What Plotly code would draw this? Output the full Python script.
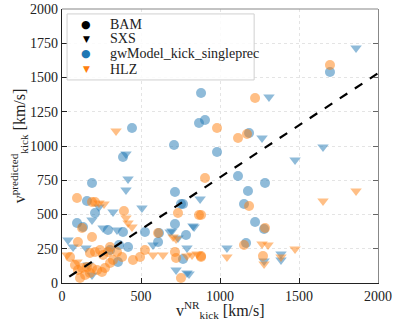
import plotly.graph_objects as go

# gwModel_kick_singleprec predictions vs NR kicks (km/s)
gw_bam_x = [880, 867, 905, 443, 1696, 709, 981, 386, 1184, 190, 158, 209, 715, 753, 766,
            1114, 1285, 1177, 1152, 1222, 1279, 1165, 715, 785, 608, 525, 766, 95, 133,
            291, 386, 304, 361, 418, 354, 614]
gw_bam_y = [1387, 1168, 1190, 1132, 1540, 1007, 956, 920, 1095, 730, 599, 511, 664, 577, 577,
            781, 730, 672, 577, 445, 394, 292, 431, 350, 299, 372, 175, 438, 409,
            387, 372, 241, 277, 263, 153, 365]

gw_sxs_x = [1861, 1310, 1266, 1652, 1475, 405, 418, 405, 234, 323, 506, 874, 829, 696,
            791, 722, 791, 804, 1044, 1279, 1386, 1386, 684, 836, 734, 576, 190, 260,
            348, 38, 70, 152, 165, 190]
gw_sxs_y = [1715, 1358, 1059, 993, 898, 942, 759, 679, 555, 518, 548, 613, 416, 380,
            256, 95, 73, 66, 256, 161, 212, 168, 372, 409, 328, 277, 460, 401,
            387, 314, 263, 255, 131, 58]

# HLZ predictions
hlz_bam_x = [1696, 1222, 981, 1114, 1171, 905, 1184, 1285, 1152, 1272, 880, 880, 95, 190,
             209, 392, 734, 867, 608, 525, 494, 715, 722, 880, 753, 127, 190, 101, 51,
             177, 209, 241, 260, 291, 304, 348, 380, 323, 82, 101, 127, 158, 190, 222,
             177, 146, 114, 253, 272, 304, 449]
hlz_bam_y = [1591, 1350, 1132, 1059, 1088, 767, 562, 402, 277, 197, 496, 197, 621, 591,
             591, 526, 511, 496, 365, 241, 190, 226, 183, 190, 37, 402, 336, 299, 190,
             219, 226, 241, 204, 226, 263, 226, 190, 168, 131, 95, 110, 117, 110, 95,
             73, 58, 37, 80, 110, 146, 168]

hlz_sxs_x = [342, 234, 266, 1861, 1652, 1266, 1304, 1475, 1044, 1279, 1386, 703, 722, 791,
             823, 855, 576, 639, 418, 443, 405, 32, 95]
hlz_sxs_y = [1110, 584, 577, 672, 599, 285, 277, 248, 190, 139, 190, 336, 321, 197,
             204, 212, 204, 204, 438, 409, 474, 204, 153]

fit_slope = 0.76
fit_intercept = 11
fit_x = [46, 2000]

legend_names = ["BAM", "SXS", "gwModel_kick_singleprec", "HLZ"]

BLUE = "#1f77b4"
ORANGE = "#ff7f0e"
FONT = "Liberation Serif"
TXT = "#222"

fig = go.Figure()

series = [
    (gw_bam_x, gw_bam_y, BLUE, "circle"),
    (gw_sxs_x, gw_sxs_y, BLUE, "triangle-down"),
    (hlz_bam_x, hlz_bam_y, ORANGE, "circle"),
    (hlz_sxs_x, hlz_sxs_y, ORANGE, "triangle-down"),
]
for xs, ys, col, sym in series:
    fig.add_trace(go.Scatter(
        x=xs, y=ys, mode="markers", showlegend=False, hoverinfo="skip",
        marker=dict(color=col, symbol=sym, size=10, opacity=0.5, line_width=0),
    ))

fig.add_trace(go.Scatter(
    x=fit_x, y=[fit_slope * v + fit_intercept for v in fit_x], mode="lines",
    showlegend=False, line=dict(color="black", width=2.2, dash="dash"),
))

# right spine (grey) as an overlaid axis
fig.add_trace(go.Scatter(x=[None], y=[None], yaxis="y2", showlegend=False))

yticks = [0, 250, 500, 750, 1000, 1250, 1500, 1750, 2000]

# hand-built legend (matplotlib-like compact rows)
legend_syms = [("●", "black", 11), ("▼", "black", 9), ("●", BLUE, 11), ("▼", ORANGE, 9)]
row_y = [0.945, 0.891, 0.836, 0.781]
annotations = []
for name, (sym, col, sz), ry in zip(legend_names, legend_syms, row_y):
    annotations.append(dict(text=sym, xref="paper", yref="paper", x=0.076, y=ry,
                            xanchor="center", yanchor="middle", showarrow=False,
                            font=dict(family="DejaVu Sans", size=sz, color=col)))
    annotations.append(dict(text=name, xref="paper", yref="paper", x=0.146, y=ry,
                            xanchor="left", yanchor="middle", showarrow=False,
                            font=dict(family=FONT, size=14, color=TXT)))

annotations += [
    dict(text="v<sup>NR</sup><sub>kick</sub> [km/s]", xref="paper", yref="paper",
         x=0.5, y=-0.1, xanchor="center", yanchor="middle", showarrow=False,
         font=dict(family=FONT, size=16, color=TXT)),
    dict(text="v<sup>predicted</sup><sub>kick</sub> [km/s]", xref="paper", yref="paper",
         x=-0.135, y=0.5, xanchor="center", yanchor="middle", showarrow=False,
         textangle=-90, font=dict(family=FONT, size=16, color=TXT)),
]

fig.update_layout(
    width=397, height=326,
    margin=dict(l=62, r=19, t=9, b=43),
    paper_bgcolor="white", plot_bgcolor="white",
    font=dict(family=FONT, size=14, color=TXT),
    showlegend=False,
    xaxis=dict(
        range=[0, 2000], tickvals=[0, 500, 1000, 1500, 2000], automargin=False,
        ticks="inside", ticklen=5, tickcolor=TXT, showline=True, linecolor=TXT,
        linewidth=1.2, showgrid=True, gridcolor="#e4e4e4", griddash="dot", zeroline=False,
        tickfont=dict(family=FONT, size=14, color=TXT),
    ),
    yaxis=dict(
        range=[0, 2000], tickvals=yticks, automargin=False,
        ticks="inside", ticklen=5, tickcolor=TXT, showline=True, linecolor=TXT,
        linewidth=1.2, showgrid=True, gridcolor="#e4e4e4", griddash="dot", zeroline=False,
        tickfont=dict(family=FONT, size=14, color=TXT),
    ),
    yaxis2=dict(
        overlaying="y", side="right", range=[0, 2000], tickvals=yticks, automargin=False,
        ticks="inside", ticklen=5, tickcolor="#666", showline=True, linecolor="#888",
        linewidth=1.2, showticklabels=False, showgrid=False, zeroline=False,
    ),
    shapes=[
        dict(type="line", xref="paper", yref="paper", x0=0, x1=1, y0=1, y1=1,
             line=dict(color="#888", width=1.2)),
        dict(type="rect", xref="paper", yref="paper", x0=0.016, x1=0.608, y0=0.741, y1=0.982,
             fillcolor="rgba(255,255,255,0.85)", line=dict(color="#d0d0d0", width=1)),
    ],
    annotations=annotations,
)

# drop the browser's default 8px body margin so the figure sits at the page corner
fig.write_html("out.html", config={"displayModeBar": False},
               post_script="document.body.style.margin='0px';")
